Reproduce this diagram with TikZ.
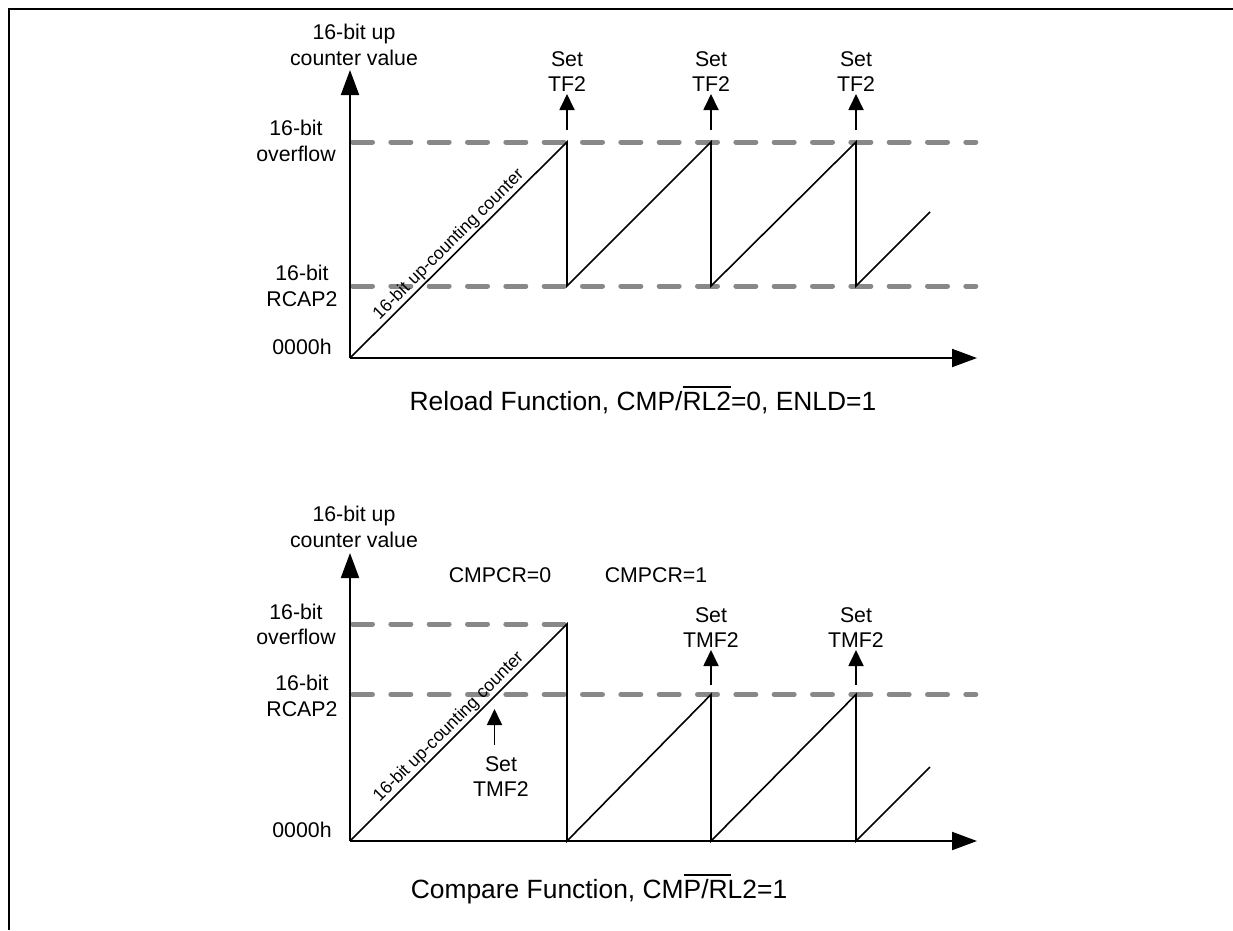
\documentclass[tikz,border=0pt]{standalone}
\usepackage{fontspec}
\setmainfont{Liberation Sans}
\usetikzlibrary{arrows.meta}
\definecolor{dashgray}{RGB}{136,136,136}
\begin{document}
\begin{tikzpicture}[x=1pt,y=-1pt,
  axis/.style={line width=2pt,-{Triangle[length=25pt,width=18pt]}},
  ramp/.style={line width=1.6pt,line join=miter},
  lvl/.style={draw=dashgray,line width=5pt,line cap=round,dash pattern=on 20pt off 18.333pt},
  setarr/.style={line width=1.8pt,-{Triangle[length=16pt,width=15pt]}},
  lbl/.style={font=\fontsize{21.3}{25.7}\selectfont,align=center,inner sep=0pt},
  capt/.style={font=\fontsize{26.4}{30}\selectfont,inner sep=0pt},
  diag/.style={font=\fontsize{17.6}{20}\selectfont,inner sep=1.5pt,sloped,above,pos=0.49},
  frame/.style={line width=2pt}]
\useasboundingbox (0,0) rectangle (1233,930);
% frame
\coordinate (fbl) at (9,930);
\coordinate (ftl) at (9,9);
\coordinate (ftr) at (1233,9);
\draw[frame] (fbl) -- (ftl) -- (ftr);

% ================= top chart =================
\coordinate (O1) at (350,358);
\coordinate (Y1) at (350,70);
\coordinate (X1) at (977,358);
\draw[lvl] (352.5,142) -- (975.8,142);
\draw[lvl] (352.5,286) -- (975.8,286);
\draw[axis] (O1) -- (Y1);
\draw[axis] (O1) -- (X1);
\coordinate (p11) at (567,142);
\coordinate (q11) at (567,286);
\coordinate (p12) at (711,142);
\coordinate (q12) at (711,286);
\coordinate (p13) at (856,142);
\coordinate (q13) at (856,286);
\coordinate (e1) at (930,212);
\draw[ramp] (O1) -- node[diag] {16-bit up-counting counter} (p11) -- (q11) -- (p12) -- (q12) -- (p13) -- (q13) -- (e1);

\node[lbl] (ylab1) at (354,45) {16-bit up\\counter value};
\node[lbl] (ov1) at (296,141) {16-bit\\overflow};
\node[lbl] (rc1) at (302,286) {16-bit\\RCAP2};
\node[lbl] (z1) at (302,347) {0000h};

\node[lbl,anchor=south] (s11) at (567,92) {Set\\TF2};
\node[lbl,anchor=south] (s12) at (711,92) {Set\\TF2};
\node[lbl,anchor=south] (s13) at (856,92) {Set\\TF2};
\coordinate (t11) at (567,130);
\coordinate (t12) at (711,130);
\coordinate (t13) at (856,130);
\draw[setarr] (t11) -- ([yshift=-2pt]s11.south);
\draw[setarr] (t12) -- ([yshift=-2pt]s12.south);
\draw[setarr] (t13) -- ([yshift=-2pt]s13.south);

\node[capt] (cap1) at (643,400) {Reload Function, CMP/\rlap{\rule[0.86em]{1.834em}{0.057em}}RL2=0, ENLD=1};

% ================= bottom chart =================
\coordinate (O2) at (350,841);
\coordinate (Y2) at (350,553);
\coordinate (X2) at (977,841);
\draw[lvl] (352.5,624) -- (564.2,624);
\draw[lvl] (352.5,694.5) -- (975.8,694.5);
\draw[axis] (O2) -- (Y2);
\draw[axis] (O2) -- (X2);
\coordinate (p21) at (567,624);
\coordinate (q21) at (567,841);
\coordinate (p22) at (711,694.5);
\coordinate (q22) at (711,841);
\coordinate (p23) at (856,694.5);
\coordinate (q23) at (856,841);
\coordinate (e2) at (930,767);
\draw[ramp] (O2) -- node[diag] {16-bit up-counting counter} (p21) -- (q21) -- (p22) -- (q22) -- (p23) -- (q23) -- (e2);

\node[lbl] (ylab2) at (354,527) {16-bit up\\counter value};
\node[lbl] (ov2) at (296,624.5) {16-bit\\overflow};
\node[lbl] (rc2) at (302,696) {16-bit\\RCAP2};
\node[lbl] (z2) at (302,829.5) {0000h};

\node[lbl] (c0) at (500,575) {CMPCR=0};
\node[lbl] (c1) at (656,575) {CMPCR=1};

\node[lbl,anchor=south] (s22) at (711,648) {Set\\TMF2};
\node[lbl,anchor=south] (s23) at (856,648) {Set\\TMF2};
\coordinate (t22) at (711,685);
\coordinate (t23) at (856,685);
\draw[setarr] (t22) -- ([yshift=-2pt]s22.south);
\draw[setarr] (t23) -- ([yshift=-2pt]s23.south);

\node[lbl,anchor=north] (s21) at (501,756) {Set\\TMF2};
\coordinate (t21) at (494.5,745);
\coordinate (h21) at (494.5,709);
\draw[setarr] (t21) -- (h21);

\node[capt] (cap2) at (599,889) {Compare Function, CM\rlap{\rule[0.86em]{1.78em}{0.057em}}P/RL2=1};
\end{tikzpicture}
\end{document}
